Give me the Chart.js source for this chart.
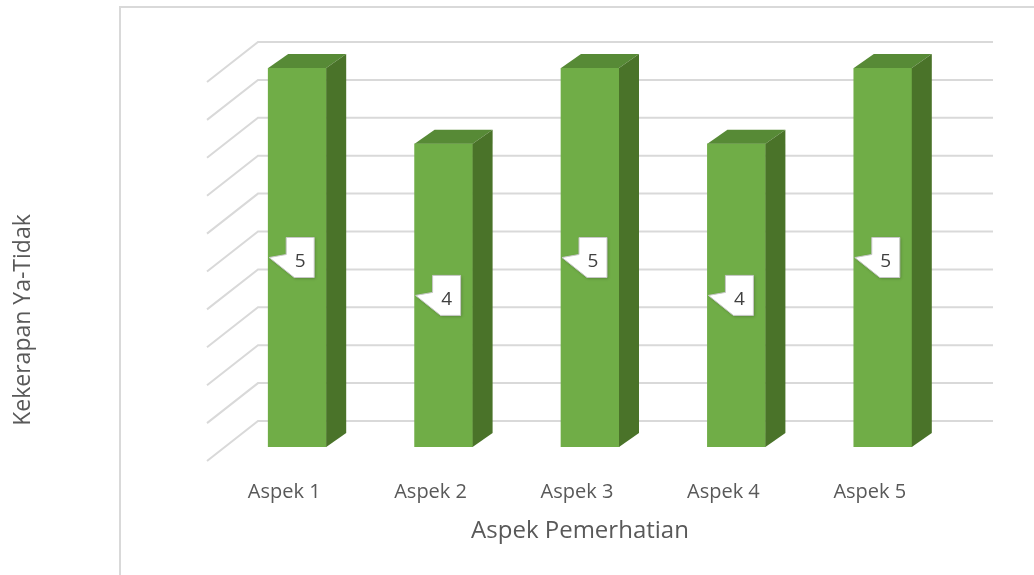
<!DOCTYPE html>
<html>
<head>
<meta charset="utf-8">
<script src="https://cdn.jsdelivr.net/npm/chart.js@4.4.1/dist/chart.umd.min.js"></script>
<style>
  body { margin: 0; background: #fff; }
  canvas { display: block; }
</style>
</head>
<body>
<canvas id="chart_area" width="1034" height="575"></canvas>
<script>
  // chart data
  const categories = ['Aspek 1', 'Aspek 2', 'Aspek 3', 'Aspek 4', 'Aspek 5'];
  const values = [5, 4, 5, 4, 5];
  const gridSteps = [0, 0.5, 1, 1.5, 2, 2.5, 3, 3.5, 4, 4.5, 5];

  const xTitle = 'Aspek Pemerhatian';
  const yTitle = 'Kekerapan Ya-Tidak';

  const textColor = '#595959';
  const gridColor = '#d9d9d9';
  const frontColor = '#70ad47';
  const topColor = '#578a36';
  const sideColor = '#4a7329';

  // depth of the bars and of the back wall (3D look)
  const barDx = 20, barDy = 14;
  const wallDx = 51, wallDy = 40, wallLift = 26;

  Chart.defaults.font.family = "'Open Sans', sans-serif";
  Chart.defaults.color = textColor;

  const frame3d = {
    id: 'frame3d',
    beforeDraw(chart) {
      const c = chart.ctx;
      c.save();
      c.strokeStyle = gridColor;
      c.lineWidth = 2;
      c.beginPath();
      c.moveTo(120, 575);
      c.lineTo(120, 7);
      c.lineTo(1034, 7);
      c.stroke();
      c.restore();
    },
    beforeDatasetsDraw(chart) {
      const c = chart.ctx;
      const area = chart.chartArea;
      const y = chart.scales.y;
      const left = area.left + 34;
      const right = area.right + 37;
      c.save();
      c.strokeStyle = gridColor;
      c.lineWidth = 2;
      gridSteps.forEach(v => {
        const yb = y.getPixelForValue(v) - wallLift;
        c.beginPath();
        c.moveTo(left - wallDx, yb + wallDy);
        c.lineTo(left, yb);
        c.lineTo(right, yb);
        c.stroke();
      });
      c.restore();
    },
    afterDatasetsDraw(chart) {
      const c = chart.ctx;
      const meta = chart.getDatasetMeta(0);
      c.save();
      meta.data.forEach((bar, i) => {
        const p = bar.getProps(['x', 'y', 'base', 'width'], true);
        const l = p.x - p.width / 2;
        const r = p.x + p.width / 2;
        // top face
        c.fillStyle = topColor;
        c.beginPath();
        c.moveTo(l, p.y);
        c.lineTo(l + barDx, p.y - barDy);
        c.lineTo(r + barDx, p.y - barDy);
        c.lineTo(r, p.y);
        c.closePath();
        c.fill();
        // side face
        c.fillStyle = sideColor;
        c.beginPath();
        c.moveTo(r, p.y);
        c.lineTo(r + barDx, p.y - barDy);
        c.lineTo(r + barDx, p.base - barDy);
        c.lineTo(r, p.base);
        c.closePath();
        c.fill();

        // callout label
        const cy = (p.y + p.base) / 2;
        const bx = p.x - 11, bw = 28, bh = 40;
        const by = cy - bh / 2;
        c.fillStyle = '#ffffff';
        c.strokeStyle = '#c8c8c8';
        c.lineWidth = 1;
        c.shadowColor = 'rgba(0,0,0,0.25)';
        c.shadowBlur = 3;
        c.shadowOffsetX = 1;
        c.shadowOffsetY = 1;
        c.beginPath();
        c.moveTo(bx, by);
        c.lineTo(bx + bw, by);
        c.lineTo(bx + bw, by + bh);
        c.lineTo(bx + 8, by + bh);
        c.lineTo(p.x - 28, cy);
        c.lineTo(bx, by + 17);
        c.closePath();
        c.fill();
        c.shadowColor = 'transparent';
        c.stroke();
        c.fillStyle = '#404040';
        c.font = "19px 'Open Sans', sans-serif";
        c.textAlign = 'center';
        c.textBaseline = 'middle';
        c.fillText(String(values[i]), bx + bw / 2, cy + 4);
      });
      c.restore();
    },
    afterDraw(chart) {
      const c = chart.ctx;
      c.save();
      c.fillStyle = textColor;
      c.textAlign = 'center';
      c.textBaseline = 'middle';
      c.font = "24px 'Open Sans', sans-serif";
      c.fillText(xTitle, 580, 531);
      c.translate(23, 320);
      c.rotate(-Math.PI / 2);
      c.font = "23px 'Open Sans', sans-serif";
      c.fillText(yTitle, 0, 0);
      c.restore();
    }
  };

  const ctx = document.getElementById('chart_area').getContext('2d');
  const myChart = new Chart(ctx, {
    type: 'bar',
    data: {
      labels: categories,
      datasets: [{
        label: 'Kekerapan',
        data: values,
        backgroundColor: frontColor,
        barThickness: 58
      }]
    },
    options: {
      responsive: false,
      animation: false,
      devicePixelRatio: 1,
      layout: { padding: { left: 224, right: 78, top: 68, bottom: 0 } },
      plugins: {
        legend: { display: false },
        tooltip: { enabled: false }
      },
      scales: {
        x: {
          grid: { display: false, drawTicks: false },
          border: { display: false },
          ticks: { padding: 33, labelOffset: -13, font: { size: 20 }, color: textColor },
          afterFit: s => { s.height = 128; }
        },
        y: {
          display: false,
          min: 0,
          max: 5
        }
      }
    },
    plugins: [frame3d]
  });
</script>
</body>
</html>
